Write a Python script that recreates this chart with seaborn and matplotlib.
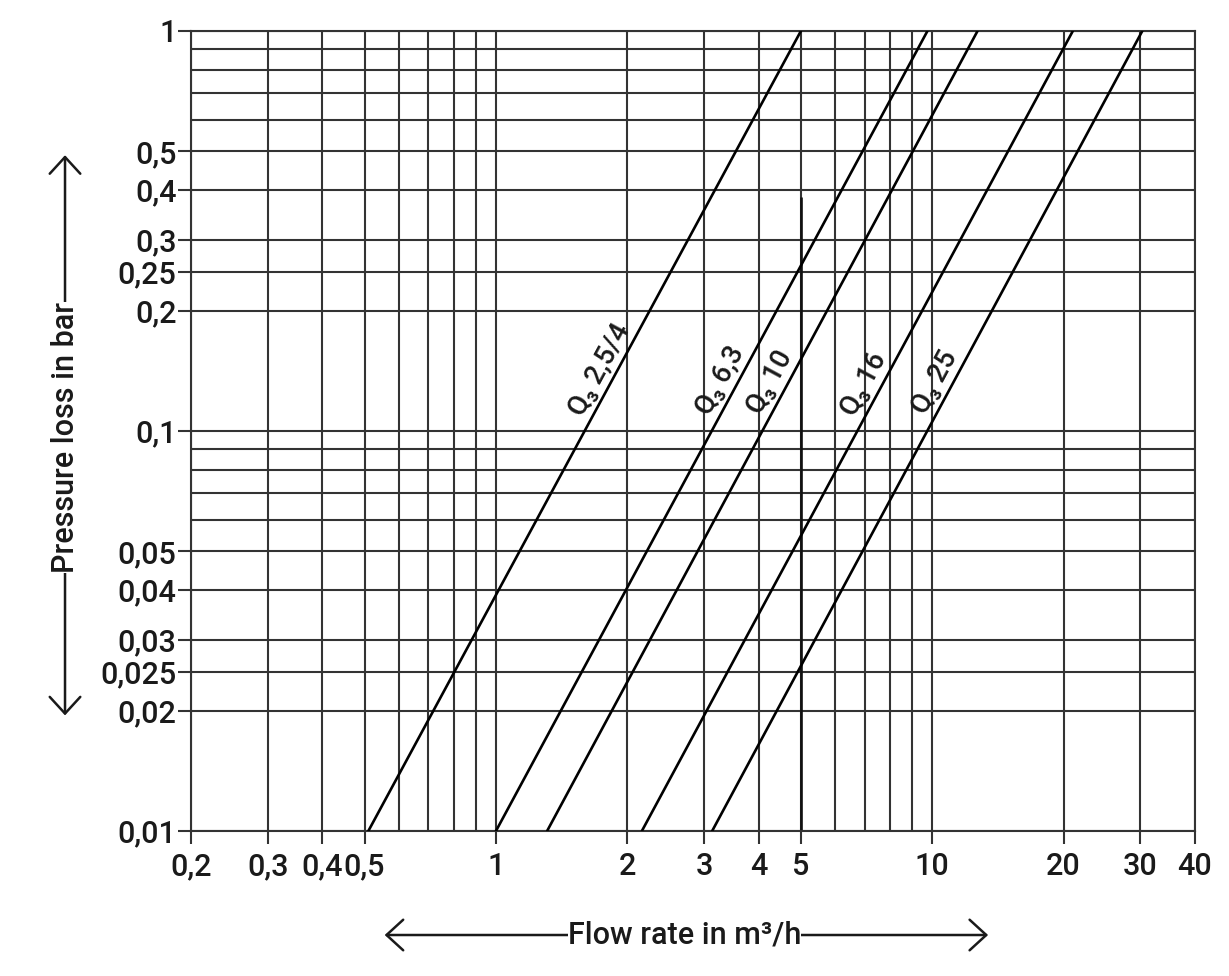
import matplotlib

matplotlib.use("Agg")
import matplotlib.pyplot as plt
import numpy as np
import pandas as pd
import seaborn as sns
from matplotlib.ticker import FixedFormatter, FixedLocator, NullFormatter

# meter curves: flow (m³/h) where each line meets 0,01 bar and 1 bar
series = ["Q₃ 2,5/4", "Q₃ 6,3", "Q₃ 10", "Q₃ 16", "Q₃ 25"]
flow_at_min = [0.51, 1.0, 1.31, 2.16, 3.13]
flow_at_max = [5.0, 9.75, 12.7, 21.0, 30.3]
loss_min, loss_max = 0.01, 1.0
label_flow = [1.86, 3.53, 4.58, 7.52, 10.94]

x_major = [0.2, 0.3, 0.4, 0.5, 1, 2, 3, 4, 5, 10, 20, 30, 40]
x_labels = ["0,2", "0,3", "0,4", "0,5", "1", "2", "3", "4", "5", "10", "20", "30", "40"]
x_minor = [0.6, 0.7, 0.8, 0.9, 6, 7, 8, 9]
y_major = [0.01, 0.02, 0.025, 0.03, 0.04, 0.05, 0.1, 0.2, 0.25, 0.3, 0.4, 0.5, 1]
y_labels = ["0,01", "0,02", "0,025", "0,03", "0,04", "0,05", "0,1",
            "0,2", "0,25", "0,3", "0,4", "0,5", "1"]
y_minor = [0.06, 0.07, 0.08, 0.09, 0.6, 0.7, 0.8, 0.9]

# darker stub on the 5 m³/h line
stub_flow, stub_top = 5, 0.385

rows = []
for name, q0, q1 in zip(series, flow_at_min, flow_at_max):
    rows.append((name, q0, loss_min))
    rows.append((name, q1, loss_max))
df = pd.DataFrame(rows, columns=["series", "flow", "loss"])

sns.set_theme(style="white")
plt.rcParams["font.family"] = ["Roboto", "DejaVu Sans"]
plt.rcParams["font.weight"] = "medium"

GRID = "#333333"
INK = "#1a1a1a"

fig = plt.figure(figsize=(12.29, 9.76), dpi=100)
ax = fig.add_axes([0.1554, 0.1486, 0.8169, 0.8197])
ax.set_xscale("log")
ax.set_yscale("log")

sns.lineplot(data=df, x="flow", y="loss", hue="series", units="series",
             estimator=None, palette=["black"] * len(series), legend=False,
             lw=1.9, ax=ax, zorder=3)
ax.vlines(stub_flow, loss_min, stub_top, color="#111111", lw=1.9, zorder=2.5)

ax.set_xlim(0.2, 40)
ax.set_ylim(0.01, 1)

ax.xaxis.set_major_locator(FixedLocator(x_major))
ax.xaxis.set_major_formatter(FixedFormatter(x_labels))
ax.xaxis.set_minor_locator(FixedLocator(x_minor))
ax.xaxis.set_minor_formatter(NullFormatter())
ax.yaxis.set_major_locator(FixedLocator(y_major))
ax.yaxis.set_major_formatter(FixedFormatter(y_labels))
ax.yaxis.set_minor_locator(FixedLocator(y_minor))
ax.yaxis.set_minor_formatter(NullFormatter())

ax.grid(True, which="both", color=GRID, lw=1.5)
ax.set_axisbelow(True)
ax.tick_params(which="major", length=9.5, width=1.5, color=GRID,
               direction="out", labelsize=22, bottom=True, left=True,
               labelcolor=INK)
ax.tick_params(axis="x", which="major", pad=6)
ax.tick_params(axis="y", which="major", pad=1)
ax.tick_params(which="minor", length=0)
for sp in ax.spines.values():
    sp.set_color(GRID)
    sp.set_linewidth(1.5)
ax.set_xlabel("")
ax.set_ylabel("")

# curve labels sitting on the lines
for name, q0, q1, ql in zip(series, flow_at_min, flow_at_max, label_flow):
    frac = (np.log10(ql) - np.log10(q0)) / (np.log10(q1) - np.log10(q0))
    pl = 10 ** (np.log10(loss_min) + frac * (np.log10(loss_max) - np.log10(loss_min)))
    p0, p1 = ax.transData.transform([(q0, loss_min), (q1, loss_max)])
    ang = np.degrees(np.arctan2(p1[1] - p0[1], p1[0] - p0[0]))
    off = 11.5
    dx = -off * np.sin(np.radians(ang))
    dy = off * np.cos(np.radians(ang))
    ax.annotate(name, xy=(ql, pl), xytext=(dx, dy), textcoords="offset points",
                rotation=ang, rotation_mode="anchor", ha="center", va="center",
                fontsize=20, color=INK, zorder=4)

# axis titles with double arrows
arrow = dict(arrowstyle="<->,head_length=0.6,head_width=0.55", lw=1.8,
             color=INK, shrinkA=0, shrinkB=0, mutation_scale=20)
ax.annotate("", xy=(0.0529, 0.841), xytext=(0.0529, 0.267),
            xycoords="figure fraction", textcoords="figure fraction",
            arrowprops=arrow)
fig.text(0.0529, 0.552, "Pressure loss in bar", rotation=90, ha="center",
         va="center", fontsize=22, color=INK,
         bbox=dict(boxstyle="square,pad=0.0", fc="white", ec="none"))
ax.annotate("", xy=(0.313, 0.042), xytext=(0.804, 0.042),
            xycoords="figure fraction", textcoords="figure fraction",
            arrowprops=arrow)
fig.text(0.557, 0.042, "Flow rate in m³/h", ha="center", va="center",
         fontsize=22, color=INK,
         bbox=dict(boxstyle="square,pad=0.0", fc="white", ec="none"))

fig.savefig("out.png", dpi=100)
plt.close(fig)
